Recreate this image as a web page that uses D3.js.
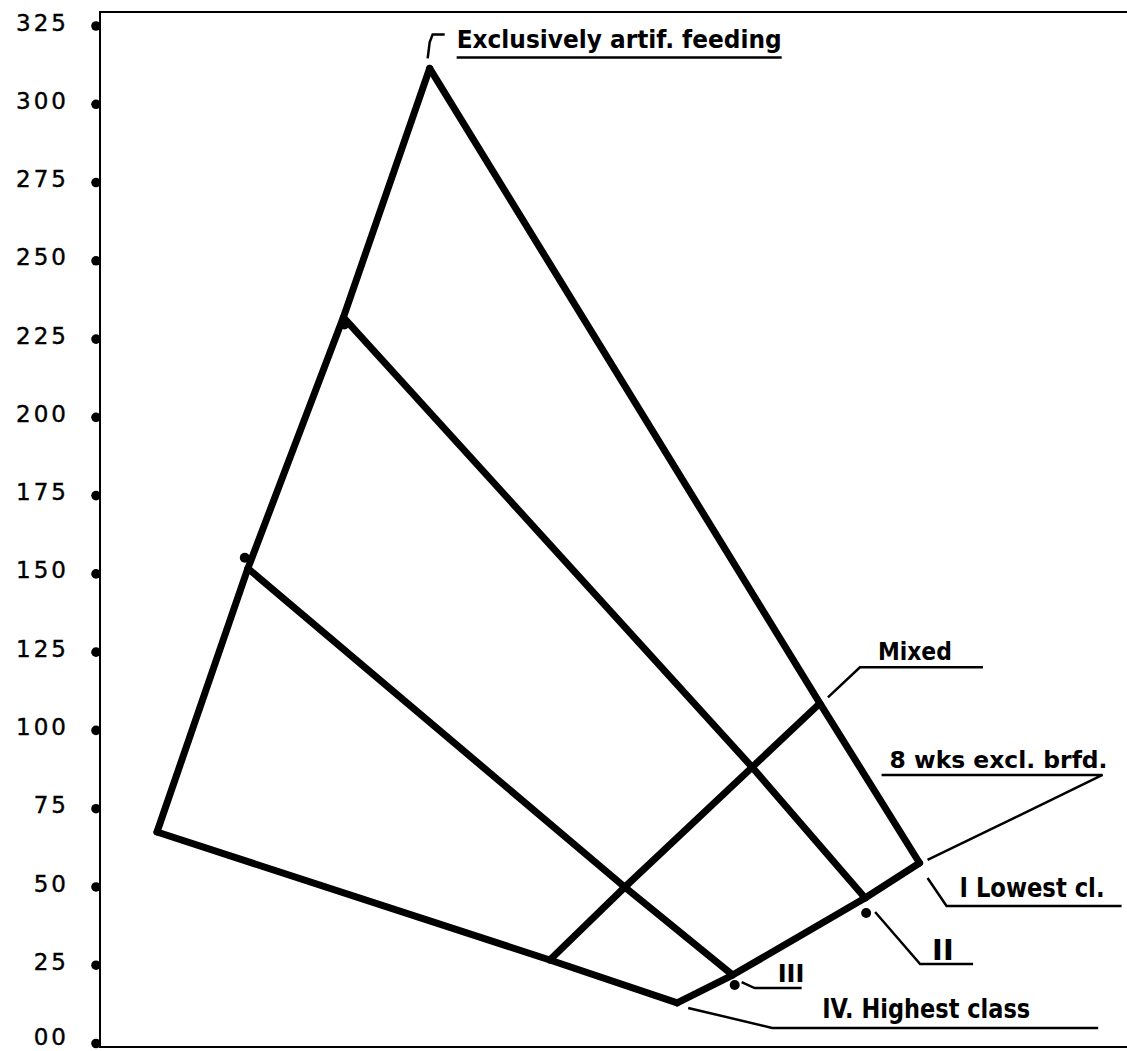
<!DOCTYPE html>
<html><head><meta charset="utf-8">
<script src="https://cdn.jsdelivr.net/npm/d3@7/dist/d3.min.js"></script>
<style>
html,body{margin:0;padding:0;background:#fff;}
svg{display:block;}
</style></head>
<body>
<svg id="chart" width="1127" height="1051"></svg>
<script>
// ---------- DATA ----------
const classes = ["I Lowest cl.", "II", "III", "IV. Highest class"];
const feedings = ["Exclusively artif. feeding", "Mixed", "8 wks excl. brfd."];
// values (y) per feeding type, ordered by class I..IV
const valuesArtif = [311.3, 231.8, 151.6, 67.4];
const valuesMixed = [108.5, 88.1, 49.8, 26.5];
const values8wks  = [57.5, 46.3, 21.7, 12.8];
// horizontal (perspective) position per feeding type, class I..IV
const posArtif = [32.1, 23.7, 14.4, 5.55];
const posMixed = [70.1, 63.5, 51.1, 43.8];
const pos8wks  = [79.8, 74.5, 61.6, 56.2];
// plotted marker dots
const markerPos = [14.1, 23.8, 74.6, 61.8];
const markerVal = [155, 229.5, 41.5, 18.5];
// y axis ticks
const yTicks = [0, 25, 50, 75, 100, 125, 150, 175, 200, 225, 250, 275, 300, 325];
const yTickLabels = ["00", "25", "50", "75", "100", "125", "150", "175", "200", "225", "250", "275", "300", "325"];

// ---------- LAYOUT ----------
const svg = d3.select("#chart");
const frameL = 100, frameR = 1127, frameT = 12, frameB = 1047;
const x = d3.scaleLinear().domain([0, 100]).range([frameL, 1127]);
const y = d3.scaleLinear().domain([0, 325]).range([1043, 25.5]);

const valueCols = [valuesArtif, valuesMixed, values8wks];
const posCols = [posArtif, posMixed, pos8wks];

// frame
svg.append("path")
  .attr("d", `M${frameR},${frameT}H${frameL}V${frameB}H${frameR}`)
  .attr("fill", "none").attr("stroke", "#000").attr("stroke-width", 2);

// y axis
const yAxis = d3.axisLeft(y).tickValues(yTicks).tickSize(0).tickPadding(31)
  .tickFormat((d, i) => yTickLabels[i]);
const gy = svg.append("g").attr("transform", `translate(${frameL},0)`).call(yAxis);
gy.select(".domain").remove();
gy.selectAll("text")
  .attr("font-family", "'DejaVu Sans', sans-serif")
  .attr("font-size", 23).attr("fill", "#000")
  .attr("stroke", "#000").attr("stroke-width", 0.4)
  .attr("dy", d => d === 0 ? "0.05em" : "0.2em")
  .attr("letter-spacing", 3);
gy.selectAll(".tick").append("circle")
  .attr("cx", -4).attr("cy", 0).attr("r", 4.8).attr("fill", "#000");

// grid lines
const line = d3.line().x(d => x(d[0])).y(d => y(d[1]));
const lines = [];
classes.forEach((c, i) => {
  lines.push(valueCols.map((col, j) => [posCols[j][i], col[i]]));
});
valueCols.forEach((col, j) => {
  lines.push(col.map((v, i) => [posCols[j][i], v]));
});
svg.append("g").selectAll("path").data(lines).join("path")
  .attr("d", line)
  .attr("fill", "none").attr("stroke", "#000")
  .attr("stroke-width", 7).attr("stroke-linejoin", "round").attr("stroke-linecap", "round");

// marker dots
svg.append("g").selectAll("circle").data(markerPos).join("circle")
  .attr("cx", (d) => x(d)).attr("cy", (d, i) => y(markerVal[i]))
  .attr("r", 5).attr("fill", "#000");

// ---------- ANNOTATIONS (anchored on data points, pixel offsets) ----------
function pt(feedIdx, clsIdx) {
  return [x(posCols[feedIdx][clsIdx]), y(valueCols[feedIdx][clsIdx])];
}
const annotations = [
  { text: feedings[0], anchor: pt(0, 0), leader: [[-2, -10], [0, -26], [3, -34], [15, -34]],
    underline: [27, 352, -11], tx: 27, ty: -20, len: 325, size: 24 },
  { text: feedings[1], anchor: pt(1, 0), leader: [[8, -6], [40, -36], [163, -36]],
    underline: null, tx: 58, ty: -43, len: 74, size: 25 },
  { text: feedings[2], anchor: pt(2, 0), leader: [[8, -3], [183, -88], [-38, -88]],
    underline: null, tx: -30, ty: -95, len: 218, size: 23 },
  { text: classes[0], anchor: pt(2, 0), leader: [[8, 15], [27, 43], [202, 43]],
    underline: null, tx: 40, ty: 34, len: 145, size: 26 },
  { text: classes[1], anchor: pt(2, 1), leader: [[10, 14], [55, 66], [108, 66]],
    underline: null, tx: 67, ty: 62, len: 0, size: 29 },
  { text: classes[2], anchor: pt(2, 2), leader: [[9, 7], [22, 13], [69, 13]],
    underline: null, tx: 45, ty: 7, len: 0, size: 24 },
  { text: classes[3], anchor: pt(2, 3), leader: [[11, 5], [95, 25], [421, 25]],
    underline: null, tx: 145, ty: 15, len: 208, size: 26 }
];
const ga = svg.append("g");
annotations.forEach(a => {
  const [ax, ay] = a.anchor;
  ga.append("path")
    .attr("d", d3.line()(a.leader.map(p => [ax + p[0], ay + p[1]])))
    .attr("fill", "none").attr("stroke", "#000").attr("stroke-width", 2.5);
  if (a.underline) {
    ga.append("line")
      .attr("x1", ax + a.underline[0]).attr("x2", ax + a.underline[1])
      .attr("y1", ay + a.underline[2]).attr("y2", ay + a.underline[2])
      .attr("stroke", "#000").attr("stroke-width", 2.5);
  }
  const t = ga.append("text")
    .attr("x", ax + a.tx).attr("y", ay + a.ty)
    .attr("font-family", "'DejaVu Sans', sans-serif")
    .attr("font-weight", "bold")
    .attr("font-size", a.size).attr("fill", "#000")
    .text(a.text);
  if (a.len > 0) t.attr("textLength", a.len).attr("lengthAdjust", "spacingAndGlyphs");
});
</script>
</body></html>
